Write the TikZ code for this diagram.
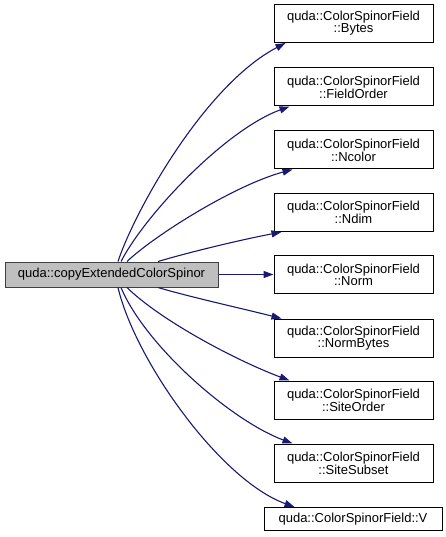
\documentclass[tikz,border=0pt]{standalone}
\usepackage{fontspec}
\setmainfont{Liberation Sans}
\usetikzlibrary{arrows.meta, positioning}
\definecolor{edgeblue}{RGB}{25,25,112}
\definecolor{maingray}{RGB}{191,191,191}
\definecolor{boxline}{RGB}{64,64,64}

\begin{document}
\begin{tikzpicture}[x=1pt, y=-1pt,
  fn/.style={draw=black, line width=1pt, inner sep=0pt, align=center,
    minimum width=159pt, minimum height=38pt,
    font=\fontsize{13}{12}\selectfont},
  call/.style={edgeblue, line width=1.1pt, -{Triangle[length=10pt, width=7pt]}}]
  \useasboundingbox (0,0) rectangle (446,537);
  % caller
  \node[fn, fill=maingray, draw=boxline, minimum width=213pt, minimum height=25pt]
    (main) at (111.5,274.5) {quda::copyExtendedColorSpinor};
  % callees
  \node[fn] (bytes) at (353.5,23.5) {quda::ColorSpinorField\\::Bytes};
  \node[fn] (fieldorder) at (353.5,87) {quda::ColorSpinorField\\::FieldOrder};
  \node[fn] (ncolor) at (353.5,150) {quda::ColorSpinorField\\::Ncolor};
  \node[fn] (ndim) at (353.5,212.5) {quda::ColorSpinorField\\::Ndim};
  \node[fn] (norm) at (353.5,274.5) {quda::ColorSpinorField\\::Norm};
  \node[fn] (normbytes) at (353.5,338) {quda::ColorSpinorField\\::NormBytes};
  \node[fn] (siteorder) at (353.5,400) {quda::ColorSpinorField\\::SiteOrder};
  \node[fn] (sitesubset) at (353.5,463) {quda::ColorSpinorField\\::SiteSubset};
  \node[fn, minimum width=178pt, minimum height=23pt] (v) at (353,519) {quda::ColorSpinorField::V};
  % calls above
  \draw[call] ([xshift=6.5pt]main.north) .. controls (135,210) and (205,85) .. ([xshift=12pt]bytes.south west);
  \draw[call] ([xshift=9.5pt]main.north) .. controls (145,215) and (225,130) .. ([xshift=16pt]fieldorder.south west);
  \draw[call] ([xshift=15.5pt]main.north) .. controls (155,235) and (235,185) .. ([xshift=19pt]ncolor.south west);
  \draw[call] ([xshift=46.5pt]main.north) .. controls (190,252) and (240,240) .. ([xshift=8pt]ndim.south west);
  \draw[call] (main.east) -- (norm.west);
  % calls below
  \draw[call] ([xshift=46.5pt]main.south) .. controls (190,297) and (240,308) .. ([xshift=8pt]normbytes.north west);
  \draw[call] ([xshift=15.5pt]main.south) .. controls (160,320) and (235,360) .. ([xshift=16pt]siteorder.north west);
  \draw[call] ([xshift=9.5pt]main.south) .. controls (145,345) and (230,420) .. ([xshift=19pt]sitesubset.north west);
  \draw[call] ([xshift=6.5pt]main.south) .. controls (135,360) and (220,480) .. ([xshift=31pt]v.north west);
\end{tikzpicture}
\end{document}
